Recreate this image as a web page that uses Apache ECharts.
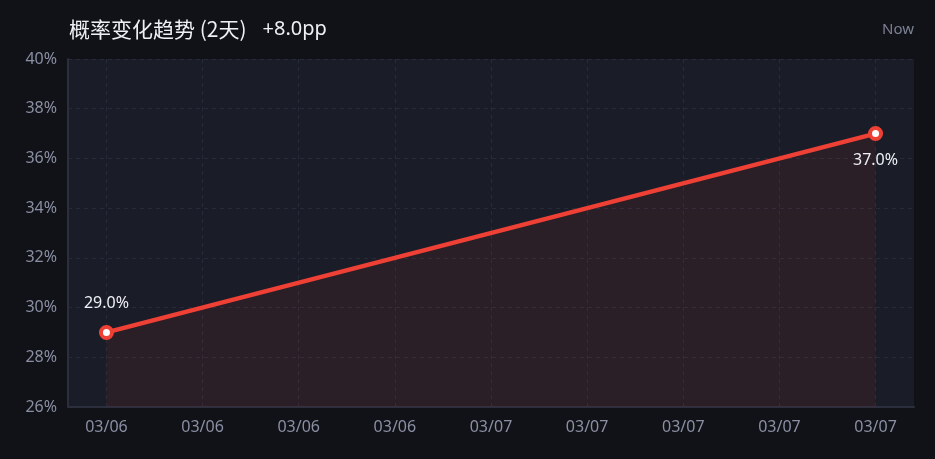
<!DOCTYPE html>
<html>
<head>
<meta charset="utf-8">
<script src="https://cdn.jsdelivr.net/npm/echarts@6/dist/echarts.min.js"></script>
<style>
html,body{margin:0;padding:0;background:#111217;}
#chart{width:935px;height:459px;}
</style>
</head>
<body>
<div id="chart"></div>
<script>
// Data
var xLabels = ['03/06','03/06','03/06','03/06','03/07','03/07','03/07','03/07','03/07'];
var pointIndex = [0, 8];
var values = [29.0, 37.0];
var yTicks = [26, 28, 30, 32, 34, 36, 38, 40];
var titleText = '概率变化趋势 (2天)';
var changeText = '+8.0pp';
var nowText = 'Now';

var seriesData = values.map(function (v, i) {
  return {
    value: [pointIndex[i], v],
    label: i === 0 ? { position: 'top', distance: 13 } : { position: 'bottom', distance: 11 }
  };
});

var chart = echarts.init(document.getElementById('chart'), null, { renderer: 'canvas' });
chart.setOption({
  backgroundColor: '#111217',
  animation: false,
  title: [{
    text: '{a|' + titleText + '}{b|' + changeText + '}',
    left: 64,
    top: 14,
    textStyle: {
      fontWeight: 'normal',
      rich: {
        a: { fontFamily: 'Noto Sans CJK SC', fontSize: 21, fontWeight: 'normal', color: '#eef0f5' },
        b: { fontFamily: 'Noto Sans', fontSize: 20, fontWeight: 'normal', color: '#eef0f5', padding: [0, 0, 0, 16] }
      }
    }
  }, {
    text: nowText,
    right: 16,
    top: 17,
    textStyle: { fontFamily: 'Noto Sans', fontSize: 15, fontWeight: 'normal', color: '#7c8194' }
  }],
  grid: {
    left: 68, right: 21, top: 59, bottom: 52,
    show: true,
    backgroundColor: '#1a1c27',
    borderWidth: 0
  },
  xAxis: {
    type: 'value',
    min: function (e) { return e.min - (e.max - e.min) * 0.05; },
    max: function (e) { return e.max + (e.max - e.min) * 0.05; },
    splitNumber: 9,
    minInterval: 1,
    maxInterval: 1,
    axisLine: { show: true, onZero: false, lineStyle: { color: '#2b2e3d', width: 2 } },
    axisTick: { show: false },
    axisLabel: {
      showMinLabel: false,
      showMaxLabel: false,
      margin: 12,
      color: '#8a8fa3',
      fontFamily: 'Noto Sans',
      fontSize: 16,
      formatter: function (v) {
        var r = Math.round(v);
        if (Math.abs(v - r) > 1e-6) return '';
        return xLabels[r] || '';
      }
    },
    splitLine: {
      show: true,
      showMinLine: false,
      showMaxLine: false,
      lineStyle: { color: '#272a39', type: [4, 4], width: 1 }
    }
  },
  yAxis: {
    type: 'value',
    min: yTicks[0],
    max: yTicks[yTicks.length - 1],
    interval: 2,
    axisLine: { show: true, onZero: false, lineStyle: { color: '#2b2e3d', width: 2 } },
    axisTick: { show: false },
    axisLabel: {
      margin: 11,
      color: '#8a8fa3',
      fontFamily: 'Noto Sans',
      fontSize: 16,
      formatter: function (v) { return v + '%'; }
    },
    splitLine: {
      show: true,
      lineStyle: { color: '#272a39', type: [4, 4], width: 1 }
    }
  },
  series: [{
    type: 'line',
    data: seriesData,
    symbol: 'circle',
    symbolSize: 11,
    lineStyle: { color: '#ee4035', width: 4.5 },
    itemStyle: { color: '#ffffff', borderColor: '#ee4035', borderWidth: 4 },
    areaStyle: { color: 'rgba(238,64,53,0.11)' },
    label: {
      show: true,
      color: '#eef0f5',
      fontFamily: 'Noto Sans',
      fontSize: 16,
      formatter: function (p) { return p.value[1].toFixed(1) + '%'; }
    }
  }]
});
</script>
</body>
</html>
